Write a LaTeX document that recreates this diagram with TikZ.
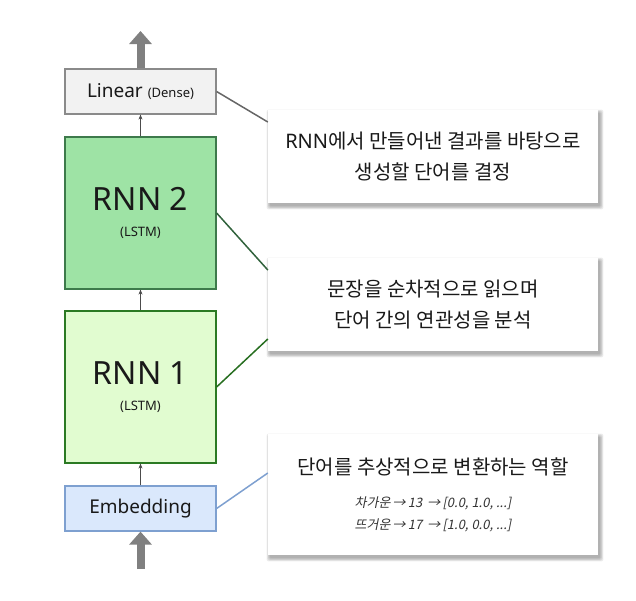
\documentclass[tikz,border=0pt]{standalone}
\usepackage{fontspec}
\setmainfont{Noto Sans CJK KR}
\newfontfamily\slantfont[FakeSlant=0.2]{Noto Sans CJK KR}
\newfontfamily\lat{Noto Sans}
\usetikzlibrary{arrows.meta,backgrounds}
\definecolor{lingray}{HTML}{F2F2F2}
\definecolor{linborder}{HTML}{8A8A8A}
\definecolor{rnntwo}{HTML}{9EE3A5}
\definecolor{rnntwob}{HTML}{3D7A4B}
\definecolor{rnnone}{HTML}{E1FCD0}
\definecolor{rnnoneb}{HTML}{2B7A23}
\definecolor{embfill}{HTML}{DAE8FC}
\definecolor{embb}{HTML}{7EA0D0}
\definecolor{bigarrow}{HTML}{808080}
\begin{document}
\begin{tikzpicture}[x=1pt,y=-1pt,
  layer/.style={draw, line width=1.2pt, minimum width=151pt, inner sep=0pt, align=center, text=black!90},
  callout/.style={fill=white, minimum width=330pt, inner sep=0pt, align=center, text=black!90},
  smallarr/.style={-{Stealth[length=5pt,width=4pt]}, line width=0.8pt, draw=black!70},
  bigarr/.style={-{Triangle[length=13pt,width=22pt]}, line width=8pt, draw=bigarrow},
  link/.style={line width=1.5pt},
  shadowpiece/.style={fill=black, opacity=0.07, rounded corners=2pt}
]
\useasboundingbox (0,0) rectangle (636,600);

\node[layer, fill=lingray, draw=linborder, minimum height=45pt,
  font=\lat\fontsize{19pt}{22pt}\selectfont] (lin) at (140.5,91.5)
  {Linear {\fontsize{13pt}{15pt}\selectfont (Dense)}};
\node[layer, fill=rnntwo, draw=rnntwob, minimum height=152pt,
  font=\lat\fontsize{32pt}{26pt}\selectfont] (r2) at (140.5,213)
  {RNN 2\\{\fontsize{13pt}{15pt}\selectfont (LSTM)}};
\node[layer, fill=rnnone, draw=rnnoneb, minimum height=152pt,
  font=\lat\fontsize{32pt}{26pt}\selectfont] (r1) at (140.5,387)
  {RNN 1\\{\fontsize{13pt}{15pt}\selectfont (LSTM)}};
\node[layer, fill=embfill, draw=embb, minimum height=45pt,
  font=\lat\fontsize{19pt}{22pt}\selectfont] (emb) at (140.5,508.5)
  {Embedding};

\coordinate (top) at (140.5,31);
\coordinate (bot) at (140.5,569);

\draw[smallarr] (r2.north) -- (lin.south);
\draw[smallarr] (r1.north) -- (r2.south);
\draw[smallarr] (emb.north) -- (r1.south);
\draw[bigarr] (lin.north) -- (top);
\draw[bigarr] (bot) -- (emb.south);

\node[callout, minimum height=93pt, font=\fontsize{20pt}{31pt}\selectfont] (ca) at (433,156.5)
  {{\lat RNN}에서 만들어낸 결과를 바탕으로\\생성할 단어를 결정};
\node[callout, minimum height=93pt, font=\fontsize{20pt}{31pt}\selectfont] (cb) at (433,304.5)
  {문장을 순차적으로 읽으며\\단어 간의 연관성을 분석};
\node[callout, minimum height=121pt, font=\fontsize{20pt}{24pt}\selectfont] (cc) at (433,494.5)
  {단어를 추상적으로 변환하는 역할\\[9pt]
   {\slantfont\fontsize{13pt}{16pt}\selectfont\color{black!80}차가운\,→\,13 \,→\,[0.0, 1.0, ...]}\\[-2pt]
   {\slantfont\fontsize{13pt}{16pt}\selectfont\color{black!80}뜨거운\,→\,17 \,→\,[1.0, 0.0, ...]}};

\begin{scope}[on background layer]
  \foreach \n in {ca,cb,cc} {
    \foreach \d in {0,1,2,3,4} {
      \fill[shadowpiece] ([xshift={(2-\d*0.8)*1pt},yshift={(-3+\d*0.8)*1pt}]\n.north west)
        rectangle ([xshift={(2+\d*0.8)*1pt},yshift={(-3-\d*0.8)*1pt}]\n.south east);
    }
  }
\end{scope}

\draw[link, draw=black!60] (lin.east) -- (ca.west |- 0,122);
\draw[link, draw=rnntwob!80!black] (r2.east) -- (cb.west |- 0,270);
\draw[link, draw=rnnoneb!90!black] (r1.east) -- (cb.west |- 0,339);
\draw[link, draw=embb] (emb.east) -- (cc.west |- 0,473);
\end{tikzpicture}
\end{document}
